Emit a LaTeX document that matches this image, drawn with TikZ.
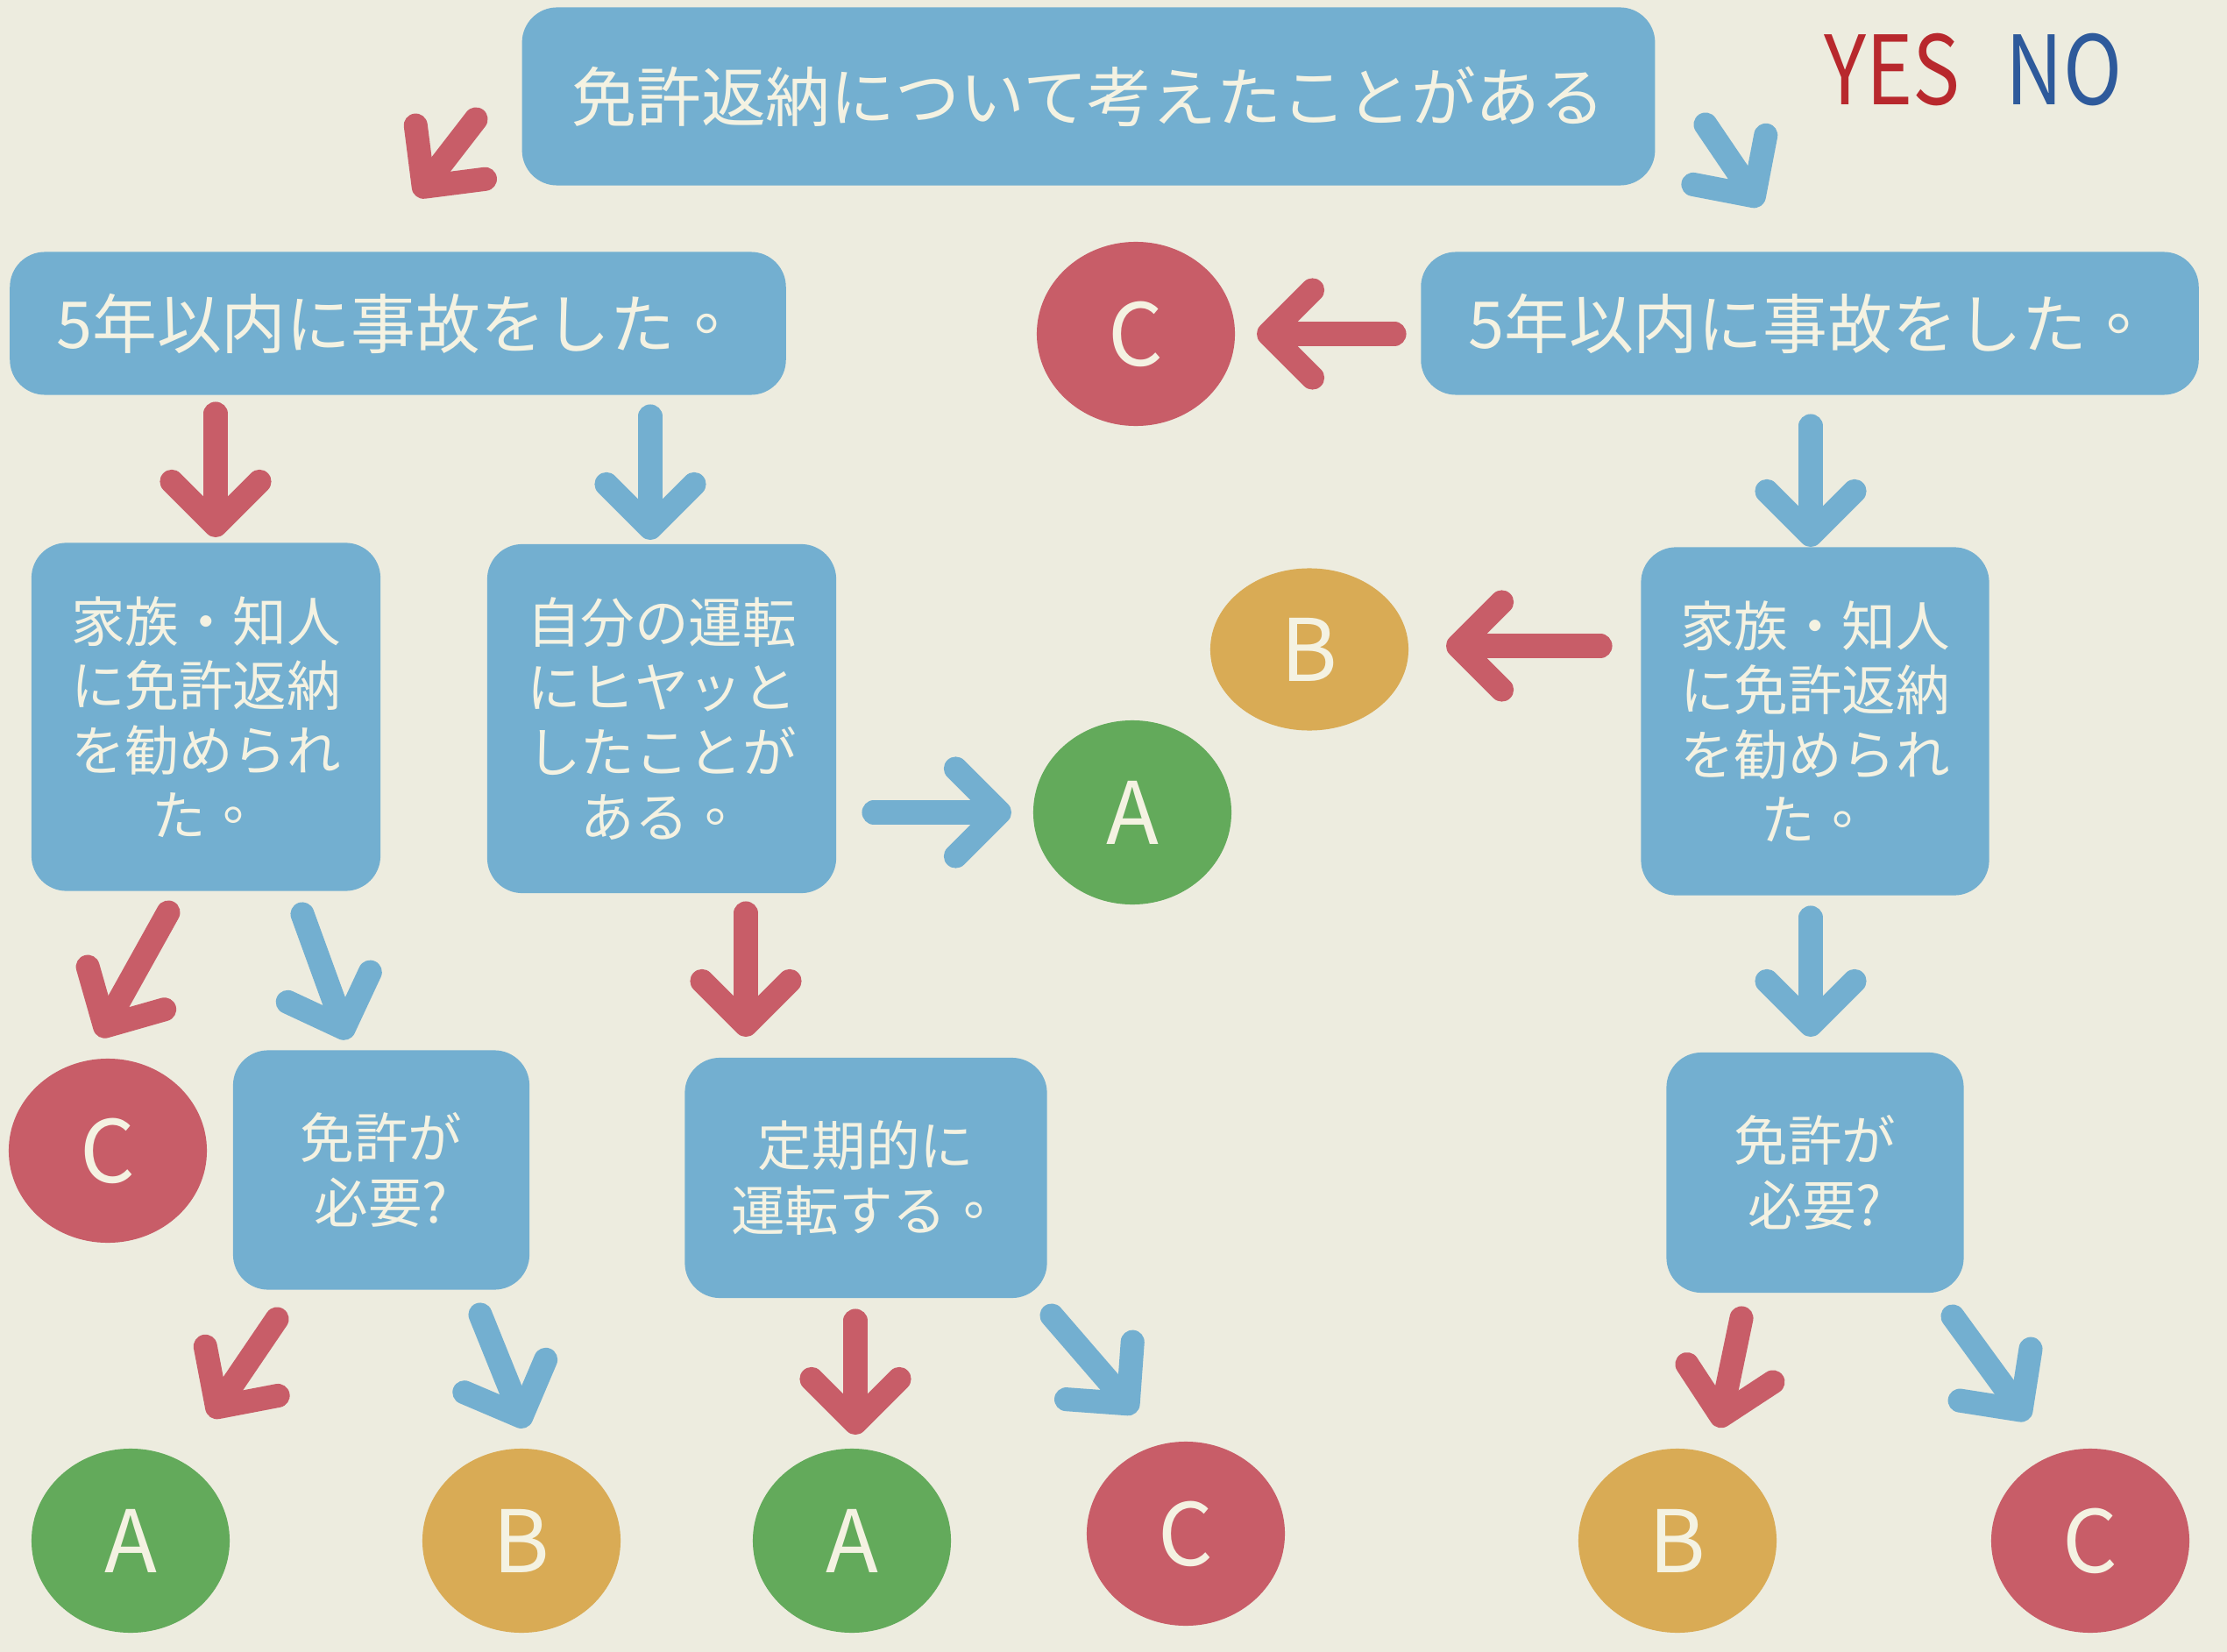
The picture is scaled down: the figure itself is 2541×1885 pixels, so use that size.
\documentclass[tikz,border=0pt]{standalone}
\usepackage{fontspec}
\setmainfont{Noto Sans CJK JP}
\newfontfamily\tcfont{Noto Sans CJK TC}
\usepackage{graphicx}
\usetikzlibrary{arrows.meta,shapes.geometric}
\definecolor{bg}{HTML}{EDECDF}
\definecolor{boxblue}{HTML}{73AFD0}
\definecolor{cred}{HTML}{C85D68}
\definecolor{cgreen}{HTML}{63AA5B}
\definecolor{cyellow}{HTML}{D9AB55}
\definecolor{ctext}{HTML}{F4F2E2}
\definecolor{yesred}{HTML}{B8282D}
\definecolor{noblue}{HTML}{2E5A9B}
\newcommand{\maru}{{\tcfont 。}}
\begin{document}
\begin{tikzpicture}[x=0.01cm,y=-0.01cm,
  qbox/.style={fill=boxblue, rounded corners=0.4cm, text=ctext, align=center, inner sep=0pt},
  bigq/.style={qbox, font=\fontsize{21pt}{25pt}\selectfont},
  smallq/.style={qbox, font=\fontsize{17.5pt}{21pt}\selectfont},
  dot/.style={ellipse, minimum width=2.26cm, minimum height=2.1cm, inner sep=0pt, text=ctext,
    font=\fontsize{28pt}{30pt}\selectfont},
  adot/.style={dot, fill=cgreen},
  bdot/.style={dot, fill=cyellow},
  cdot/.style={dot, fill=cred},
  arr/.style={line width=7.7pt, line cap=round, -{Straight Barb[round,length=0.5cm,width=1.0cm]}},
  yesarr/.style={arr, draw=cred},
  noarr/.style={arr, draw=boxblue},
  legend/.style={inner sep=0pt, font=\fontsize{31pt}{33pt}\selectfont}
]
\useasboundingbox (0,0) rectangle (2541,1885);
\fill[bg] (0,0) rectangle (2541,1885);

% legend
\node[legend, text=yesred] (yes) at (2159,80) {\scalebox{0.83}[1]{YES}};
\node[legend, text=noblue] (no) at (2355,80) {\scalebox{0.83}[1]{NO}};

% question boxes
\node[bigq, minimum width=12.92cm, minimum height=2.03cm] (T) at (1242,110) {免許返納について考えたことがある};
\node[bigq, minimum width=8.85cm, minimum height=1.63cm] (L1) at (454,369) {5年以内に事故をした\maru};
\node[bigq, minimum width=8.87cm, minimum height=1.63cm] (R1) at (2065,369) {5年以内に事故をした\maru};

\node[smallq, minimum width=3.98cm, minimum height=3.97cm] (L2) at (235,818) {家族・知人\\に免許返納\\を勧められ\\た\maru};
\node[smallq, minimum width=3.98cm, minimum height=3.98cm] (M2) at (755,820) {自分の運転\\にヒヤッと\\したことが\\ある\maru};
\node[smallq, minimum width=3.97cm, minimum height=3.97cm] (R2) at (2071,823) {家族・知人\\に免許返納\\を勧められ\\た\maru};

\node[smallq, minimum width=3.38cm, minimum height=2.73cm] (L3) at (435,1335) {免許が\\必要?};
\node[smallq, minimum width=4.13cm, minimum height=2.74cm] (M3) at (988,1344) {定期的に\\運転する\maru};
\node[smallq, minimum width=3.39cm, minimum height=2.74cm] (R3) at (2071,1338) {免許が\\必要?};

% result circles
\node[cdot] (C1) at (1296,381) {C};
\node[bdot, minimum height=1.85cm] (B1) at (1494,741) {B};
\node[adot] (A1) at (1292,927) {A};
\node[cdot] (C2) at (123,1313) {C};
\node[adot] (A2) at (149,1758) {A};
\node[bdot] (B2) at (595,1758) {B};
\node[adot] (A3) at (972,1758) {A};
\node[cdot] (C3) at (1353,1750) {C};
\node[bdot] (B3) at (1914,1758) {B};
\node[cdot] (C4) at (2385,1758) {C};

% arrow end points
\coordinate (a1s) at (543,136);  \coordinate (a1e) at (475,224);
\coordinate (a2s) at (1946,142); \coordinate (a2e) at (2009,235);
\coordinate (a3s) at (246,472);  \coordinate (a3e) at (246,613);
\coordinate (a4s) at (742,475);  \coordinate (a4e) at (742,616);
\coordinate (a5s) at (1591,381); \coordinate (a5e) at (1434,381);
\coordinate (a6s) at (2066,486); \coordinate (a6e) at (2066,624);
\coordinate (a7s) at (997,927);  \coordinate (a7e) at (1154,927);
\coordinate (a8s) at (1826,737); \coordinate (a8e) at (1650,737);
\coordinate (a9s) at (192,1041); \coordinate (a9e) at (113,1183);
\coordinate (a10s) at (345,1043); \coordinate (a10e) at (397,1186);
\coordinate (a11s) at (851,1042); \coordinate (a11e) at (851,1183);
\coordinate (a12s) at (2066,1047); \coordinate (a12e) at (2066,1183);
\coordinate (a13s) at (316,1505); \coordinate (a13e) at (240,1617);
\coordinate (a14s) at (548,1500); \coordinate (a14e) at (600,1629);
\coordinate (a15s) at (976,1507); \coordinate (a15e) at (976,1637);
\coordinate (a16s) at (1200,1501); \coordinate (a16e) at (1296,1612);
\coordinate (a17s) at (1987,1504); \coordinate (a17e) at (1961,1629);
\coordinate (a18s) at (2228,1502); \coordinate (a18e) at (2314,1620);

% arrows
\draw[yesarr] (a1s) -- (a1e);
\draw[noarr] (a2s) -- (a2e);
\draw[yesarr] (a3s) -- (a3e);
\draw[noarr] (a4s) -- (a4e);
\draw[yesarr] (a5s) -- (a5e);
\draw[noarr] (a6s) -- (a6e);
\draw[noarr] (a7s) -- (a7e);
\draw[yesarr] (a8s) -- (a8e);
\draw[yesarr] (a9s) -- (a9e);
\draw[noarr] (a10s) -- (a10e);
\draw[yesarr] (a11s) -- (a11e);
\draw[noarr] (a12s) -- (a12e);
\draw[yesarr] (a13s) -- (a13e);
\draw[noarr] (a14s) -- (a14e);
\draw[yesarr] (a15s) -- (a15e);
\draw[noarr] (a16s) -- (a16e);
\draw[yesarr] (a17s) -- (a17e);
\draw[noarr] (a18s) -- (a18e);
\end{tikzpicture}
\end{document}
